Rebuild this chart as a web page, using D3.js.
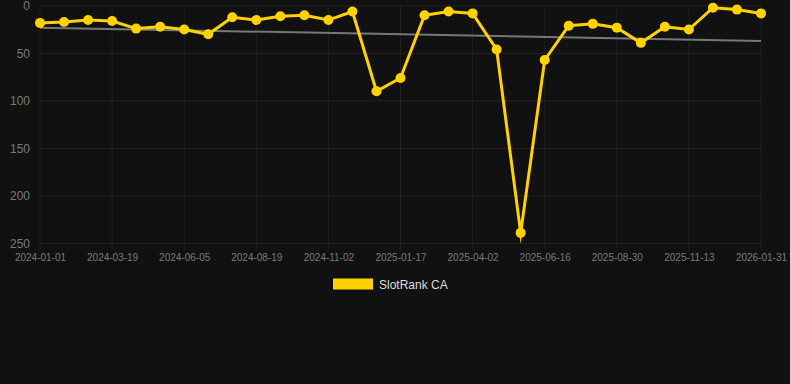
<!DOCTYPE html>
<html><head><meta charset="utf-8">
<script src="https://cdn.jsdelivr.net/npm/d3@7/dist/d3.min.js"></script>
<style>
html,body{margin:0;padding:0;background:#111111;}
svg{display:block;font-family:"Liberation Sans",Arial,sans-serif;}
</style></head>
<body><svg id="c" width="790" height="384"></svg>
<script>
const tickLabels = ["2024-01-01","2024-03-19","2024-06-05","2024-08-19","2024-11-02","2025-01-17","2025-04-02","2025-06-16","2025-08-30","2025-11-13","2026-01-31"];
const seriesName = "SlotRank CA";
const rankValues = [18,17,15,16,24,22,25,30,12,15,11,10,15,6,90,76,10,6,8,46,239,57,21,19,23,39,22,25,2,4,8];
const trendValues = [23,37];
const yTicks = [0,50,100,150,200,250];

const svg = d3.select("#c");
const m={left:40,right:761,top:5.8,bottom:243.3};
const x = d3.scaleLinear().domain([0,rankValues.length-1]).range([m.left,m.right]);
const y = d3.scaleLinear().domain([0,250]).range([m.top,m.bottom]);
const tickIdx = tickLabels.map((d,i)=>i*3);

// grid
const grid = svg.append("g");
grid.selectAll("line.h").data(yTicks).join("line")
  .attr("x1",m.left).attr("x2",m.right).attr("y1",d=>y(d)).attr("y2",d=>y(d))
  .attr("stroke","rgba(255,255,255,0.07)").attr("stroke-width",1);
grid.selectAll("line.v").data(tickIdx).join("line")
  .attr("x1",d=>x(d)).attr("x2",d=>x(d)).attr("y1",m.top).attr("y2",m.bottom+7)
  .attr("stroke","rgba(255,255,255,0.06)").attr("stroke-width",1);

// y axis labels
const yAxis = d3.axisLeft(y).tickValues(yTicks).tickSize(0).tickPadding(10);
const ya = svg.append("g").attr("transform",`translate(${m.left},0)`).call(yAxis);
ya.select(".domain").remove();
ya.selectAll("text").attr("fill","#7a7a7a").style("font-size","12px");

// x axis labels
const xAxis = d3.axisBottom(x).tickValues(tickIdx).tickFormat((d,i)=>tickLabels[i]).tickSize(0).tickPadding(11);
const xa = svg.append("g").attr("transform",`translate(0,${m.bottom})`).call(xAxis);
xa.select(".domain").remove();
xa.selectAll("text").attr("fill","#7a7a7a").style("font-size","10px");

// trend line
svg.append("line")
  .attr("x1",x(0)).attr("y1",y(trendValues[0]))
  .attr("x2",x(rankValues.length-1)).attr("y2",y(trendValues[1]))
  .attr("stroke","#777").attr("stroke-width",2);

// series line
const color="#FFD200";
svg.append("path").datum(rankValues)
  .attr("d",d3.line().x((d,i)=>x(i)).y(d=>y(d)))
  .attr("fill","none").attr("stroke",color).attr("stroke-width",3)
  .attr("stroke-linejoin","miter").attr("stroke-miterlimit",10);
svg.append("g").selectAll("circle").data(rankValues).join("circle")
  .attr("cx",(d,i)=>x(i)).attr("cy",d=>y(d)).attr("r",5).attr("fill",color);

// legend
const lg = svg.append("g");
lg.append("rect").attr("x",333).attr("y",278.5).attr("width",40).attr("height",11).attr("fill",color);
lg.append("text").attr("x",379).attr("y",285).attr("dominant-baseline","central")
  .attr("fill","#dddddd").style("font-size","12px").text(seriesName);
</script></body></html>
